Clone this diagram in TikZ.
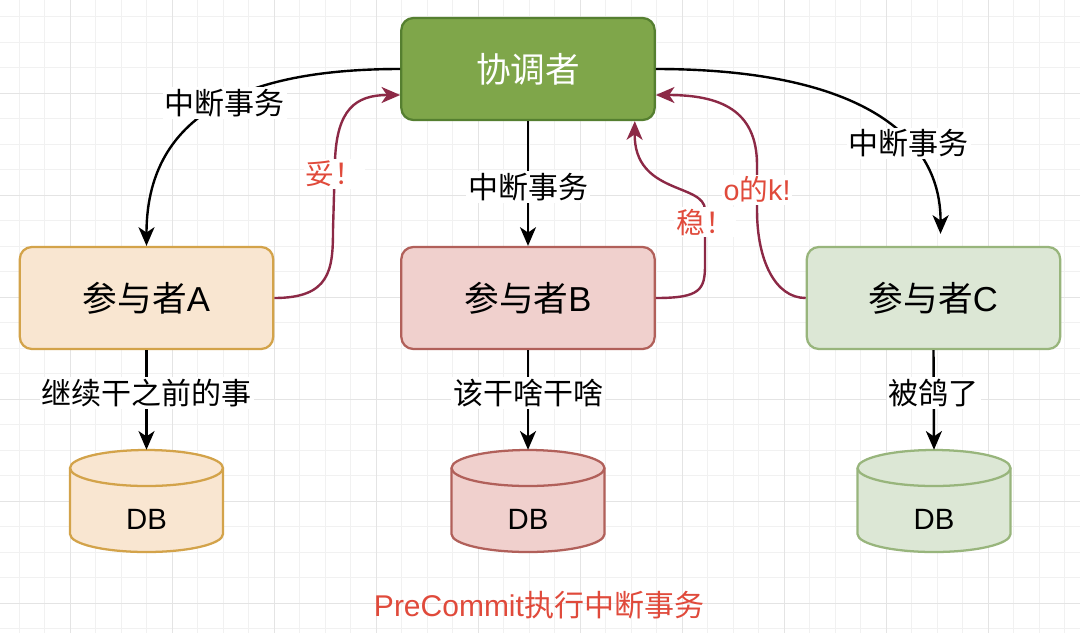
\documentclass[tikz,border=0pt]{standalone}
\usepackage{fontspec}
\setmainfont{Liberation Sans}
\newfontfamily\zhfont{Noto Sans CJK SC}
\newcommand{\zh}[1]{{\zhfont #1}}
\usetikzlibrary{arrows.meta,calc}

\definecolor{coordfill}{HTML}{7FA64A}
\definecolor{coordline}{HTML}{557F30}
\definecolor{afill}{HTML}{F9E6D1}
\definecolor{aline}{HTML}{D3A34A}
\definecolor{bfill}{HTML}{F0D0CD}
\definecolor{bline}{HTML}{B1605A}
\definecolor{cfill}{HTML}{DCE7D5}
\definecolor{cline}{HTML}{98B57C}
\definecolor{replyred}{HTML}{8C2946}
\definecolor{labelred}{HTML}{E04A3B}
\definecolor{gridminorc}{HTML}{F1F1F1}
\definecolor{gridmajorc}{HTML}{E4E4E4}

\tikzset{
  gridminor/.style={draw=gridminorc, line width=0.7pt},
  gridmajor/.style={draw=gridmajorc, line width=0.7pt},
  box/.style={draw, line width=1.7pt, rounded corners=9pt, minimum width=190pt,
    minimum height=76.5pt, font=\fontsize{26}{31}\selectfont},
  dbbox/.style={minimum width=114.75pt, minimum height=76.5pt, inner sep=0pt},
  dbtext/.style={yshift=-14pt, font=\fontsize{22}{26}\selectfont},
  lbl/.style={fill=white, inner sep=1.5pt, font=\fontsize{22.5}{27}\selectfont},
  redlbl/.style={lbl, text=labelred, font=\fontsize{21.5}{25}\selectfont},
  title/.style={text=labelred, font=\fontsize{22.5}{27}\selectfont},
  flow/.style={line width=1.8pt, -{Stealth[length=14pt,width=12pt,inset=4pt]}},
  reply/.style={flow, draw=replyred},
}

% database cylinder: centre x, centre y, fill, line
\newcommand{\dbshape}[4]{%
  \filldraw[fill=#3, draw=#4, line width=1.7pt]
    (#1-76.5,#2-33) -- (#1-76.5,#2+33)
    arc[start angle=180, end angle=360, x radius=57.375pt, y radius=13.5pt]
    -- (#1+76.5,#2-33)
    arc[start angle=0, end angle=180, x radius=57.375pt, y radius=13.5pt] -- cycle;
  \draw[draw=#4, line width=1.7pt] (#1-76.5,#2-33)
    arc[start angle=180, end angle=360, x radius=57.375pt, y radius=13.5pt];
}

\begin{document}
\begin{tikzpicture}[x=0.75pt, y=-0.75pt]
    \useasboundingbox (0,0) rectangle (1080,633);
    \fill[white] (0,0) rectangle (1080,633);

    % Background grid
    \foreach \i in {0,...,41} \draw[gridminor] ({19+25.5*\i},0) -- ({19+25.5*\i},633);
    \foreach \j in {0,...,24} \draw[gridminor] (0,{16.5+25.5*\j}) -- (1080,{16.5+25.5*\j});
    \foreach \i in {0,...,9} \draw[gridmajor] ({70+102*\i},0) -- ({70+102*\i},633);
    \foreach \j in {0,...,5} \draw[gridmajor] (0,{93+102*\j}) -- (1080,{93+102*\j});

    % Coordinator and participants
    \node[box, fill=coordfill, draw=coordline, text=white] (coord) at (528,69) {\zh{协调者}};
    \node[box, fill=afill, draw=aline] (partA) at (146.5,298) {\zh{参与者}A};
    \node[box, fill=bfill, draw=bline] (partB) at (528,298) {\zh{参与者}B};
    \node[box, fill=cfill, draw=cline] (partC) at (933.5,298) {\zh{参与者}C};

    % Databases
    \foreach \x/\n/\f/\l in {146.5/dbA/afill/aline, 528/dbB/bfill/bline, 934/dbC/cfill/cline} {
        \dbshape{\x}{501}{\f}{\l}
        \node[dbbox, label={[dbtext]center:DB}] (\n) at (\x,501) {};
    }

    % Abort sent by the coordinator
    \draw[flow] (coord.west) .. controls (270,69) and (146.5,100) .. node[lbl]{\zh{中断事务}} (partA.north);
    \draw[flow] (coord.south) -- node[lbl, pos=0.53]{\zh{中断事务}} (partB.north);
    \draw[flow] (coord.east) .. controls (850,69) and (941,130) .. node[lbl, pos=0.66]{\zh{中断事务}} ($(partC.north)+(7,-12)$);

    % Replies
    \draw[reply] (partA.east) .. controls (330,298) and (333,270) .. (333,230)
        -- node[redlbl, pos=0.8]{\zh{妥！}} (335,160)
        .. controls (337,110) and (355,95) .. ($(coord.west)+(0,26)$);
    \draw[reply] (partB.east) .. controls (700,298) and (705,290) .. (705,265)
        -- node[redlbl, pos=0.78]{\zh{稳！}} (705,210)
        .. controls (705,183) and (634,195) .. ($(coord.south east)+(-21,0)$);
    \draw[reply] (partC.west) .. controls (775,298) and (757,260) .. (757,210)
        -- node[redlbl, pos=0.45]{o\zh{的}k!} (757,165)
        .. controls (757,110) and (720,95) .. ($(coord.east)+(0,26)$);

    % Local work on each database
    \draw[flow] (partA.south) -- node[lbl, pos=0.43]{\zh{继续干之前的事}} (dbA.north);
    \draw[flow] (partB.south) -- node[lbl, pos=0.43]{\zh{该干啥干啥}} (dbB.north);
    \draw[flow] (partC.south) -- node[lbl, pos=0.43]{\zh{被鸽了}} (dbC.north);

    \node[title] (caption) at (539,605) {PreCommit\zh{执行中断事务}};
\end{tikzpicture}
\end{document}
